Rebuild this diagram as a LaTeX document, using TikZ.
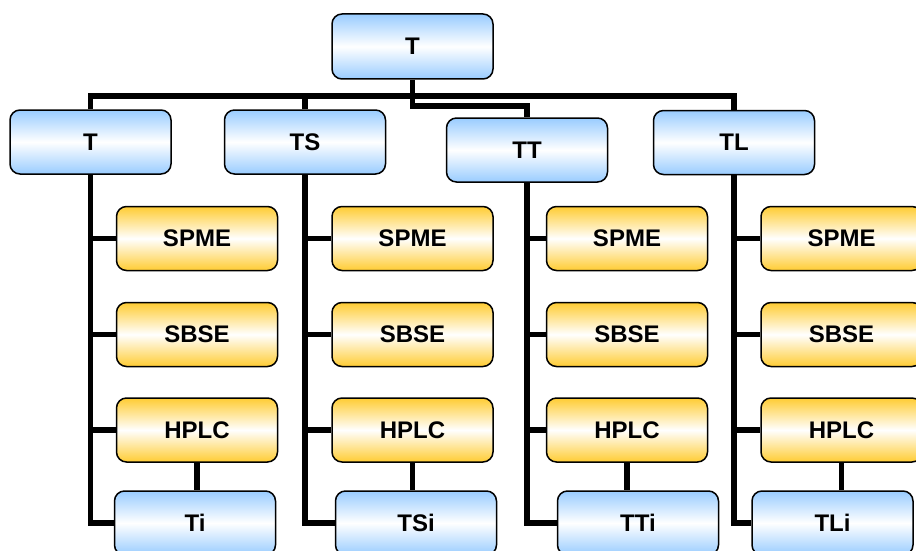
\documentclass[tikz,border=0pt]{standalone}
\usepackage{fontspec}
\setmainfont{Liberation Sans}
\usetikzlibrary{calc}
\definecolor{skyblue}{HTML}{99CCFF}
\definecolor{gold}{HTML}{FFCC33}

\tikzset{
  box/.style={draw, rounded corners=10pt, line width=1.5pt, minimum width=161pt,
    minimum height=64pt, inner sep=0pt, font=\fontsize{24}{28}\selectfont\bfseries},
  bluebox/.style={box, top color=skyblue, bottom color=skyblue, middle color=white},
  goldbox/.style={box, top color=gold, bottom color=gold, middle color=white},
  link/.style={line width=5.5pt}
}

\begin{document}
\begin{tikzpicture}[x=1pt, y=-1pt]
    \useasboundingbox (0,0) rectangle (916,551);
    \clip (0,0) rectangle (916,551);

    % Root
    \node[bluebox, minimum height=65pt] (root) at (412.5,46.5) {T};

    % Groups with their methods
    \foreach \i/\grp/\gx/\gy/\mx/\last/\lx in {1/T/90.5/142/197/Ti/195,
        2/TS/305/142/412.5/TSi/416, 3/TT/527/150/627/TTi/638, 4/TL/734/142.5/841.5/TLi/832.5} {
      \node[bluebox] (g\i) at (\gx,\gy) {\grp};
      \node[goldbox] (s\i) at (\mx,238.5) {SPME};
      \node[goldbox] (b\i) at (\mx,334.5) {SBSE};
      \node[goldbox] (h\i) at (\mx,430) {HPLC};
      \node[bluebox] (i\i) at (\lx,523) {\last};
    }

    % Bus under the root
    \draw[link] (g1.north) -- ++(0,-13) -| (g4.north);
    \draw[link] (g2.north) -- ++(0,-13);
    \draw[link] (root.south) -- ++(0,26) -| (g3.north);

    % Column trunks and branches
    \foreach \i in {1,...,4} {
      \draw[link] (g\i.south) |- (i\i.west);
      \draw[link] (g\i.south |- s\i.west) -- (s\i.west);
      \draw[link] (g\i.south |- b\i.west) -- (b\i.west);
      \draw[link] (g\i.south |- h\i.west) -- (h\i.west);
      \draw[link] (h\i.south) -- (h\i.south |- i\i.north);
    }
  \end{tikzpicture}
\end{document}
